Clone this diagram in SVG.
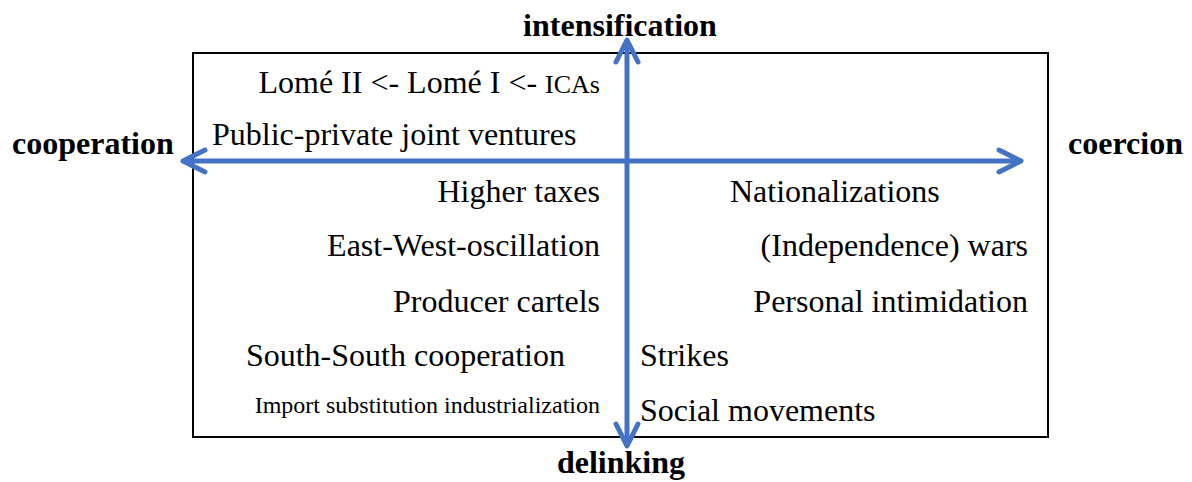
<svg xmlns="http://www.w3.org/2000/svg" width="1192" height="482" viewBox="0 0 1192 482">
<style>
.t{font-family:"Liberation Serif","Times New Roman",serif;font-size:32px;fill:#000}
.b{font-weight:bold}
.s{font-size:24px}
.c{font-size:26px}
.e{text-anchor:end}
.m{text-anchor:middle}
.ax{stroke:#4472C4;stroke-width:5;fill:none}
</style>
<defs>
<marker id="ah" markerUnits="userSpaceOnUse" viewBox="-30 -16 34 32" refX="0" refY="0" markerWidth="34" markerHeight="32" orient="auto-start-reverse">
<path d="M -22 -11 L 0 0 L -22 11" fill="none" stroke="#4472C4" stroke-width="5" stroke-linecap="round" stroke-linejoin="round"/>
</marker>
</defs>
<rect x="193" y="53" width="855" height="384" fill="#fff" stroke="#000" stroke-width="2"/>
<g id="connectors">
<line class="ax" x1="627" y1="446" x2="627" y2="40" marker-start="url(#ah)" marker-end="url(#ah)"/>
<line class="ax" x1="183" y1="161" x2="1021" y2="161" marker-start="url(#ah)" marker-end="url(#ah)"/>
</g>
<g id="intensification"><text class="t b m" x="620" y="36">intensification</text></g>
<g id="delinking"><text class="t b m" x="621" y="473">delinking</text></g>
<g id="cooperation"><text class="t b" x="12" y="154">cooperation</text></g>
<g id="coercion"><text class="t b" x="1068" y="154">coercion</text></g>
<g id="lome"><text class="t e" x="600" y="93">Lomé II &lt;- Lomé I &lt;- <tspan class="c">ICAs</tspan></text></g>
<g id="ppjv"><text class="t" x="212" y="145">Public-private joint ventures</text></g>
<g id="taxes"><text class="t e" x="600" y="202">Higher taxes</text></g>
<g id="eastwest"><text class="t e" x="600" y="256">East-West-oscillation</text></g>
<g id="cartels"><text class="t e" x="600" y="312">Producer cartels</text></g>
<g id="southsouth"><text class="t e" x="565" y="366">South-South cooperation</text></g>
<g id="isi"><text class="t s e" x="600" y="413">Import substitution industrialization</text></g>
<g id="nationalizations"><text class="t" x="730" y="202">Nationalizations</text></g>
<g id="wars"><text class="t e" x="1028" y="256">(Independence) wars</text></g>
<g id="intimidation"><text class="t e" x="1028" y="312">Personal intimidation</text></g>
<g id="strikes"><text class="t" x="640" y="366">Strikes</text></g>
<g id="social"><text class="t" x="640" y="421">Social movements</text></g>
</svg>
